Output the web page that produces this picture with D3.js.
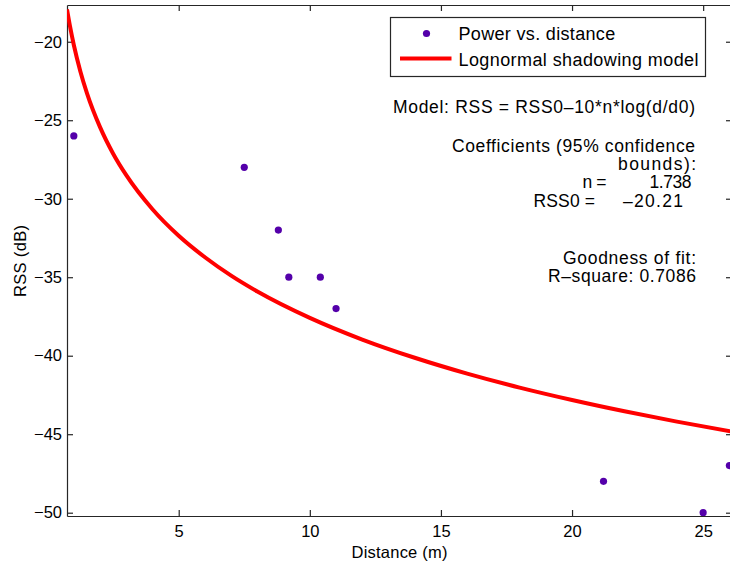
<!DOCTYPE html>
<html>
<head>
<meta charset="utf-8">
<script src="https://cdn.jsdelivr.net/npm/d3@7"></script>
<style>
  html, body { margin: 0; padding: 0; background: #fff; }
  svg { display: block; font-family: "Liberation Sans", Arial, sans-serif; }
</style>
</head>
<body>
<svg id="chart" width="730" height="566"></svg>
<script>
// ============= DATA ==================

// measured points (distance in m, RSS in dB)
const distance = [1, 7.5, 8.8, 9.2, 10.4, 11, 21.2, 25, 26];
const rss = [-26, -28, -32, -35, -35, -37, -48, -50, -47];

// fitted lognormal shadowing curve
const fitDistance = [0.74, 0.85, 1, 1.25, 1.5, 2, 2.5, 3, 4, 5, 6, 7, 8, 10, 12, 14, 16, 18, 20, 22, 24, 26.1];
const fitRss = [-17.94, -18.98, -20.21, -21.89, -23.27, -25.44, -27.13, -28.50, -30.67, -32.36, -33.73,
  -34.90, -35.91, -37.59, -38.97, -40.13, -41.14, -42.03, -42.82, -43.54, -44.20, -44.83];

const xTicks = [5, 10, 15, 20, 25];
const yTicks = [-50, -45, -40, -35, -30, -25, -20];

const legendLabels = ["Power vs. distance", "Lognormal shadowing model"];

// ============= SETUP ==================

const svg = d3.select("#chart");
const box = { left: 67, right: 732, top: 5, bottom: 516 };

const x = d3.scaleLinear().domain([0.74, 26.1]).range([box.left, box.right]);
const y = d3.scaleLinear().domain([-50.21, -17.66]).range([box.bottom, box.top]);

const axisColor = "#262626";
const pointColor = "#5400aa";

svg.append("defs").append("clipPath").attr("id", "plot")
  .append("rect")
  .attr("x", box.left).attr("y", box.top)
  .attr("width", box.right - box.left).attr("height", box.bottom - box.top);

// ============= AXES ==================

const fmt = d => d < 0 ? "\u2212" + Math.abs(d) : d;

svg.append("g")
  .attr("transform", `translate(0,${box.bottom})`)
  .call(d3.axisBottom(x).tickValues(xTicks).tickSizeInner(-6).tickSizeOuter(0).tickPadding(9));

svg.append("g")
  .attr("transform", `translate(${box.left},0)`)
  .call(d3.axisLeft(y).tickValues(yTicks).tickFormat(fmt).tickSizeInner(-6).tickSizeOuter(0).tickPadding(5));

// box: top and right with ticks, no labels
svg.append("g")
  .attr("transform", `translate(0,${box.top})`)
  .call(d3.axisTop(x).tickValues(xTicks).tickFormat("").tickSizeInner(-6).tickSizeOuter(0));

svg.append("g")
  .attr("transform", `translate(${box.right},0)`)
  .call(d3.axisRight(y).tickValues(yTicks).tickFormat("").tickSizeInner(-6).tickSizeOuter(0));

svg.selectAll(".domain, .tick line").attr("stroke", axisColor).attr("stroke-width", 1.2);
svg.selectAll(".tick text")
  .attr("fill", "#000")
  .style("font-size", "16.5px")
  .style("font-family", "'Liberation Sans', Arial, sans-serif");

svg.append("text")
  .attr("x", (box.left + box.right) / 2)
  .attr("y", 558)
  .attr("text-anchor", "middle")
  .style("font-size", "16.5px")
  .attr("textLength", 96).attr("lengthAdjust", "spacing")
  .text("Distance (m)");

svg.append("text")
  .attr("transform", `translate(25.5,261) rotate(-90)`)
  .attr("text-anchor", "middle")
  .style("font-size", "16.5px")
  .attr("textLength", 72).attr("lengthAdjust", "spacing")
  .text("RSS (dB)");

// ============= MARKS ==================

const plot = svg.append("g").attr("clip-path", "url(#plot)");

const line = d3.line()
  .x((d, i) => x(fitDistance[i]))
  .y(d => y(d))
  .curve(d3.curveMonotoneX);

plot.append("path")
  .attr("d", line(fitRss))
  .attr("fill", "none")
  .attr("stroke", "#ff0000")
  .attr("stroke-width", 4);

plot.selectAll("circle.pt")
  .data(distance)
  .join("circle")
  .attr("class", "pt")
  .attr("cx", d => x(d))
  .attr("cy", (d, i) => y(rss[i]))
  .attr("r", 3.6)
  .attr("fill", pointColor);

// ============= LEGEND ==================

const legend = svg.append("g");
legend.append("rect")
  .attr("x", 390.5).attr("y", 17.5)
  .attr("width", 315).attr("height", 59)
  .attr("fill", "#fff")
  .attr("stroke", axisColor)
  .attr("stroke-width", 1.2);

legend.append("circle")
  .attr("cx", 426.5).attr("cy", 33.5).attr("r", 3.6)
  .attr("fill", pointColor);

legend.append("line")
  .attr("x1", 400).attr("x2", 451.5)
  .attr("y1", 58.5).attr("y2", 58.5)
  .attr("stroke", "#ff0000").attr("stroke-width", 4);

const legendWidths = [156.7, 240];
legend.selectAll("text.lab")
  .data(legendLabels)
  .join("text")
  .attr("class", "lab")
  .attr("x", 458.5)
  .attr("y", (d, i) => 40 + i * 25.5)
  .style("font-size", "18px")
  .attr("textLength", (d, i) => legendWidths[i]).attr("lengthAdjust", "spacing")
  .text(d => d);

// ============= FIT ANNOTATION ==================

const notes = [
  { t: "Model: RSS = RSS0\u201310*n*log(d/d0)", x: 695, y: 113, w: 302 },
  { t: "Coefficients (95% confidence", x: 695, y: 151.7, w: 243 },
  { t: "bounds):", x: 696, y: 170, w: 78 },
  { t: "n =", x: 606.5, y: 188.3, w: 24 },
  { t: "1.738", x: 691.5, y: 188.3, w: 42 },
  { t: "RSS0 =", x: 595, y: 206.7, w: 61.5 },
  { t: "\u201320.21", x: 683, y: 206.7, w: 60 },
  { t: "Goodness of fit:", x: 696, y: 264, w: 133 },
  { t: "R\u2013square: 0.7086", x: 696, y: 282.4, w: 148 }
];

svg.append("g").selectAll("text")
  .data(notes)
  .join("text")
  .attr("x", d => d.x)
  .attr("y", d => d.y)
  .attr("text-anchor", "end")
  .style("font-size", "17.5px")
  .attr("textLength", d => d.w).attr("lengthAdjust", "spacing")
  .text(d => d.t);
</script>
</body>
</html>
